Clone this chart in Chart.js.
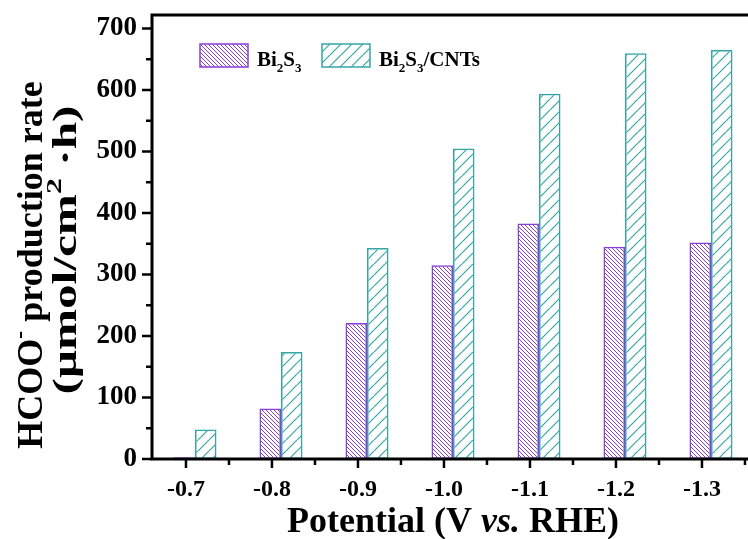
<!DOCTYPE html>
<html>
<head>
<meta charset="utf-8">
<script src="https://cdn.jsdelivr.net/npm/chart.js@4.4.0/dist/chart.umd.min.js"></script>
<style>
  html, body { margin: 0; padding: 0; background: #fff; overflow: hidden; }
  canvas { display: block; }
</style>
</head>
<body>
<canvas id="myChart" width="760" height="539"></canvas>
<script>
// data
const potentials = ['-0.7', '-0.8', '-0.9', '-1.0', '-1.1', '-1.2', '-1.3'];
const bi2s3 = [3, 82, 221, 315, 383, 345, 352];
const bi2s3Cnts = [48, 174, 343, 505, 594, 660, 665];
const yTicks = [0, 100, 200, 300, 400, 500, 600, 700];

const FONT = '"Liberation Serif", "Times New Roman", serif';
const PURPLE = '#8a3ed8';
const TEAL = '#36a5a5';

const canvas = document.getElementById('myChart');
const ctx = canvas.getContext('2d');

// diagonal hatch fill, dir 1 = "/", -1 = "\"
function hatch(color, size, lw, dir) {
    const c = document.createElement('canvas');
    c.width = size; c.height = size;
    const g = c.getContext('2d');
    g.strokeStyle = color;
    g.lineWidth = lw;
    g.beginPath();
    for (let k = -1; k <= 1; k++) {
        if (dir > 0) { g.moveTo(k * size, size); g.lineTo(k * size + size, 0); }
        else { g.moveTo(k * size, 0); g.lineTo(k * size + size, size); }
    }
    g.stroke();
    return ctx.createPattern(c, 'repeat');
}

// draw a list of text runs {t, size, italic, dy} starting at x (or centred)
function runs(c, parts, x, y, center) {
    let w = 0;
    parts.forEach(p => {
        c.font = (p.italic ? 'italic ' : '') + 'bold ' + p.size + 'px ' + FONT;
        p.w = c.measureText(p.t).width;
        w += p.w;
    });
    let cx = center ? x - w / 2 : x;
    c.textAlign = 'left';
    c.textBaseline = 'alphabetic';
    parts.forEach(p => {
        c.font = (p.italic ? 'italic ' : '') + 'bold ' + p.size + 'px ' + FONT;
        c.fillText(p.t, cx, y + (p.dy || 0));
        cx += p.w;
    });
}

function labelRuns(label, size) {
    return label.split(/(\d)/).filter(s => s).map(s =>
        /\d/.test(s) ? {t: s, size: Math.round(size * 0.62), dy: 6} : {t: s, size: size});
}

const decor = {
    id: 'decor',
    afterDraw(chart) {
        const c = chart.ctx;
        const a = chart.chartArea;
        const y = chart.scales.y;
        const xt = chart.scales.xt;
        c.save();
        c.fillStyle = '#000';
        c.strokeStyle = '#000';

        // tick marks
        c.lineWidth = 2.5;
        c.beginPath();
        for (let v = 0; v <= yTicks[yTicks.length - 1]; v += 50) {
            const py = y.getPixelForValue(v);
            const len = v % 100 === 0 ? 10 : 6;
            c.moveTo(a.left, py); c.lineTo(a.left - len, py);
        }
        potentials.forEach((p, i) => {
            const px = xt.getPixelForValue(i);
            c.moveTo(px, a.bottom); c.lineTo(px, a.bottom + 9);
            const mx = xt.getPixelForValue(i + 0.5);
            c.moveTo(mx, a.bottom); c.lineTo(mx, a.bottom + 6);
        });
        c.stroke();

        // frame
        c.lineWidth = 3;
        c.strokeRect(a.left, a.top, a.right - a.left, a.bottom - a.top);

        // legend
        const boxX = [200, 322];
        chart.data.datasets.forEach((d, i) => {
            c.fillStyle = d.backgroundColor;
            c.fillRect(boxX[i], 44, 48, 23);
            c.strokeStyle = d.borderColor;
            c.lineWidth = 1.5;
            c.strokeRect(boxX[i], 44, 48, 23);
            c.fillStyle = '#000';
            runs(c, labelRuns(d.label, 21), boxX[i] + 57, 66, false);
        });

        // x title
        c.fillStyle = '#000';
        runs(c, [
            {t: 'Potential (V ', size: 36},
            {t: 'vs.', size: 36, italic: true},
            {t: ' RHE)', size: 36}
        ], (a.left + a.right) / 2, 532, true);

        // y title, two lines
        c.save();
        c.translate(42, 265);
        c.rotate(-Math.PI / 2);
        runs(c, [
            {t: 'HCOO', size: 36},
            {t: '-', size: 24, dy: -15},
            {t: ' production rate', size: 36}
        ], 0, 0, true);
        c.restore();
        c.save();
        c.translate(76, 250);
        c.rotate(-Math.PI / 2);
        c.scale(1.45, 1);
        runs(c, [
            {t: '(\u03bcmol/cm', size: 34},
            {t: '2', size: 22, dy: -15},
            {t: ' \u00b7h)', size: 34}
        ], 0, 0, true);
        c.restore();
        c.restore();
    }
};

new Chart(ctx, {
    type: 'bar',
    data: {
        labels: potentials,
        datasets: [{
            label: 'Bi2S3',
            data: bi2s3,
            backgroundColor: hatch(PURPLE, 4, 1, -1),
            borderColor: PURPLE,
            borderWidth: 1.5,
            borderSkipped: false,
            categoryPercentage: 0.5,
            barPercentage: 1.0,
            xAxisID: 'x'
        }, {
            label: 'Bi2S3/CNTs',
            data: bi2s3Cnts,
            backgroundColor: hatch(TEAL, 11, 1.2, 1),
            borderColor: TEAL,
            borderWidth: 1.5,
            borderSkipped: false,
            categoryPercentage: 0.5,
            barPercentage: 1.0,
            xAxisID: 'x'
        }]
    },
    options: {
        responsive: false,
        animation: false,
        devicePixelRatio: 1,
        layout: { padding: { left: 0, top: 15, right: 6, bottom: 0 } },
        plugins: { legend: { display: false }, tooltip: { enabled: false } },
        scales: {
            x: { type: 'category', display: false, offset: true },
            xt: {
                type: 'linear',
                position: 'bottom',
                offset: false,
                min: -0.395,
                max: 6.605,
                grid: { display: false, drawTicks: true, tickLength: 16 },
                border: { display: false },
                afterBuildTicks: s => { s.ticks = potentials.map((p, i) => ({ value: i })); },
                afterFit: s => { s.height = 80; },
                ticks: {
                    callback: v => potentials[v],
                    autoSkip: false,
                    maxRotation: 0,
                    padding: 0,
                    color: '#000',
                    font: { family: FONT, size: 24, weight: 'bold' }
                }
            },
            y: {
                min: 0,
                max: 722,
                grid: { display: false, drawTicks: true, tickLength: 15 },
                border: { display: false },
                afterBuildTicks: s => { s.ticks = yTicks.map(v => ({ value: v })); },
                afterFit: s => { s.width = 152; },
                ticks: {
                    padding: 0,
                    color: '#000',
                    font: { family: FONT, size: 27, weight: 'bold', lineHeight: 1.05 }
                }
            }
        }
    },
    plugins: [decor]
});
</script>
</body>
</html>
